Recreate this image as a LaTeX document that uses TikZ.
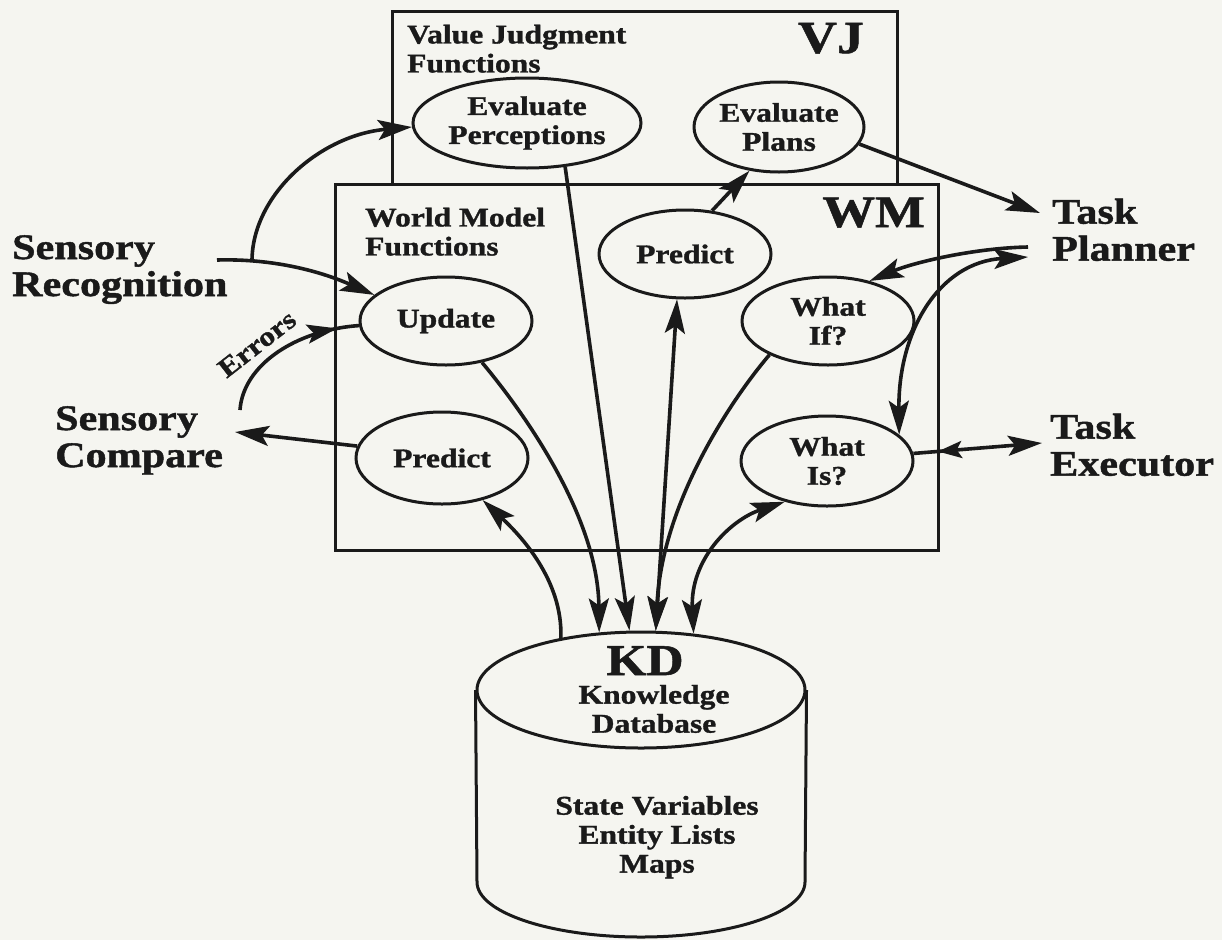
\documentclass[tikz,border=0pt]{standalone}
\usepackage{fontspec}
\setmainfont{Liberation Serif}[FakeStretch=1.17, BoldFeatures={FakeBold=1.2}]
\usetikzlibrary{shapes.geometric,arrows.meta,decorations.markings}
\definecolor{paper}{RGB}{245,245,240}
\definecolor{ink}{RGB}{26,26,26}

\begin{document}
\begin{tikzpicture}[x=1pt,y=-1pt,
  >={Stealth[length=34pt,width=20pt,inset=7pt]},
  every node/.style={text=ink, font=\bfseries},
  boxline/.style={draw=ink, line width=3pt},
  fnode/.style={ellipse, draw=ink, line width=3pt, inner sep=0pt, align=center,
    minimum width=172pt, minimum height=88pt, font=\bfseries\fontsize{27}{29}\selectfont},
  onearrow/.style={draw=ink, line width=3.6pt, ->},
  twoarrow/.style={draw=ink, line width=3.6pt, <->},
  bigtxt/.style={align=left, inner sep=0pt, anchor=north west, font=\bfseries\fontsize{36}{37}\selectfont},
  midtxt/.style={inner sep=0pt, font=\bfseries\fontsize{27}{29}\selectfont},
  tagtxt/.style={inner sep=0pt, anchor=base east, font=\bfseries\fontsize{46}{50}\selectfont},
  midtip/.style={postaction={decorate}, decoration={markings,
    mark=at position #1 with {\arrow{Stealth[length=30pt,width=19pt,inset=6pt]}}}},
  midtipback/.style={postaction={decorate}, decoration={markings,
    mark=at position #1 with {\arrowreversed{Stealth[length=24pt,width=17pt,inset=5pt]}}}},
]
% page
\fill[paper] (0,0) rectangle (1222,940);
\useasboundingbox (0,0) rectangle (1222,940);

% VJ and WM panels
\draw[boxline] (392,11) rectangle (897,184);
\draw[boxline] (335,184) rectangle (938,550);

\node[midtxt, anchor=north west, align=left] (vjtitle) at (407,24.5) {Value Judgment\\Functions};
\node[midtxt, anchor=north west, align=left] (wmtitle) at (365,207.5) {World Model\\Functions};
\node[tagtxt] (vjtag) at (864,53) {VJ};
\node[tagtxt, font=\bfseries\fontsize{45}{50}\selectfont] (wmtag) at (925,227) {WM};

% function ellipses
\node[fnode, minimum width=228pt, minimum height=90pt] (evalp) at (527,123) {Evaluate\\Perceptions};
\node[fnode, minimum width=170pt, minimum height=90pt] (evalpl) at (779,127) {Evaluate\\Plans};
\node[fnode] (predt) at (685,254) {Predict};
\node[fnode] (update) at (446,321) {Update};
\node[fnode] (whatif) at (828,321) {What\\If?};
\node[fnode, minimum height=92pt] (predl) at (442,458) {Predict};
\node[fnode, minimum height=90pt] (whatis) at (827,461) {What\\Is?};

% knowledge database cylinder
\node[ellipse, draw=ink, line width=3pt, minimum width=328pt, minimum height=116pt, inner sep=0pt] (kdtop) at (641,690) {};
\draw[boxline] (kdtop.west) -- (477,882) arc[start angle=180, end angle=360, x radius=164pt, y radius=55pt] -- (kdtop.east);
\node[midtxt, anchor=base, font=\bfseries\fontsize{44}{48}\selectfont] (kdtag) at (645,675) {KD};
\node[midtxt, anchor=north, align=center] (kdname) at (654,684.7) {Knowledge\\Database};
\node[midtxt, anchor=north, align=center] (kdlist) at (657,795.7) {State Variables\\Entity Lists\\Maps};

% outside modules
\node[bigtxt] (senrec) at (12,235) {Sensory\\Recognition};
\node[bigtxt] (sencmp) at (55,406) {Sensory\\Compare};
\node[bigtxt] (tplan) at (1052,198.5) {Task\\Planner};
\node[bigtxt] (texec) at (1050,413.5) {Task\\Executor};

% connector ends next to the outside modules
\coordinate (srout) at (217,260);
\coordinate (srbranch) at (252,261);
\coordinate (errstart) at (240,410);
\coordinate (scin) at (235,432);
\coordinate (tpin) at (1040,213);
\coordinate (tpout1) at (1028,247);
\coordinate (tpout2) at (1028,257);
\coordinate (teout) at (1042,443);

% sensory side
\draw[onearrow] (srout) .. controls (290,258) and (340,280) .. (update.160);
\draw[onearrow] (srbranch) .. controls (252,195) and (320,135) .. (evalp.182);
\draw[draw=ink, line width=3.6pt, midtip=0.86] (errstart) .. controls (243,365) and (296,330) .. (update.183);
\node[midtxt, rotate=38] (errlbl) at (257,344) {Errors};
\draw[onearrow] (predl.172) -- (scin);

% links to the knowledge database
\draw[onearrow] (evalp.-49) -- (kdtop.101);
\draw[onearrow] (update.-49) .. controls (530,420) and (598,520) .. (kdtop.126);
\draw[twoarrow] (predt.-100) -- (kdtop.76);
\draw[onearrow] (whatif.210) .. controls (735,395) and (662,500) .. (kdtop.76);
\draw[twoarrow] (kdtop.47) .. controls (690,560) and (730,520) .. (whatis.224);
\draw[onearrow] (kdtop.147) .. controls (563,580) and (520,535) .. (predl.-46);

% value judgment and planning links
\draw[onearrow] (predt.58) -- (evalpl.236);
\draw[onearrow] (evalpl.-12) -- (tpin);
\draw[onearrow] (tpout1) .. controls (975,248) and (915,262) .. (whatif.44);
\draw[twoarrow] (whatis.20) .. controls (898,330) and (940,262) .. (tpout2);
\draw[onearrow, midtipback=0.19] (whatis.5) -- (teout);
\end{tikzpicture}
\end{document}
